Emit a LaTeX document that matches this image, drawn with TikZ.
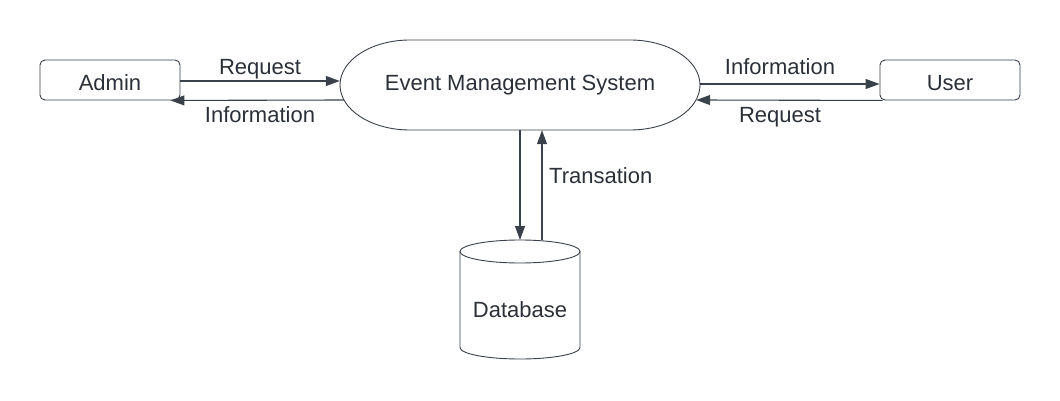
\documentclass[tikz,border=0pt]{standalone}
\usepackage{fontspec}
\setmainfont{Liberation Sans}
\usetikzlibrary{arrows.meta,calc}
\definecolor{linec}{HTML}{3A414A}
\definecolor{textc}{HTML}{2B3038}
\begin{document}
\begin{tikzpicture}[x=1pt,y=1pt,
  every node/.style={font=\fontsize{22pt}{26pt}\selectfont, text=textc},
  boxstyle/.style={draw=linec, line width=0.9pt, rounded corners=5pt, minimum width=140pt, minimum height=40pt, inner sep=0pt, text height=20pt, text depth=0pt},
  flow/.style={draw=linec, line width=1.1pt, -{Triangle[length=14pt,width=10pt]}},
  shapeline/.style={draw=linec, line width=0.9pt},
  lbl/.style={anchor=base, inner sep=0pt}]
\useasboundingbox (0,0) rectangle (1060,400);
% nodes
\node[boxstyle] (admin) at (110,320) {Admin};
\node[boxstyle] (user) at (950,320) {User};
\node[minimum width=360pt, minimum height=90pt, inner sep=0pt, text height=16pt, text depth=4pt] (sys) at (520,315) {Event Management System};
\draw[shapeline] (410,360) -- (630,360) arc[start angle=90, end angle=-90, x radius=70pt, y radius=45pt] -- (410,270) arc[start angle=270, end angle=90, x radius=70pt, y radius=45pt] -- cycle;
% database cylinder
\draw[shapeline] (460,148.5) -- (460,52.5) arc[start angle=180, end angle=360, x radius=60pt, y radius=11.5pt] -- (580,148.5);
\draw[shapeline] (520,148.5) ellipse [x radius=60pt, y radius=11.5pt];
\node[lbl] (db) at (520,83) {Database};
\coordinate (dbtop) at (520,160);
% connectors
\draw[flow] ($(admin.east)+(0,-1)$) -- ($(sys.west)+(0,4)$);
\draw[flow] ($(sys.west)+(4,-15)$) -- ($(admin.south east)+(-10,0)$);
\draw[flow] ($(sys.east)+(0,1)$) -- ($(user.west)+(0,-4)$);
\draw[flow] ($(user.south west)+(3,0)$) -- ($(sys.east)+(-4,-15)$);
\draw[flow] (sys.south) -- (dbtop);
\draw[flow] ($(dbtop)+(22,0)$) -- ($(sys.south)+(22,0)$);
% labels
\node[lbl] (l1) at (260,326) {Request};
\node[lbl] (l2) at (260,278) {Information};
\node[lbl] (l3) at (780,326) {Information};
\node[lbl] (l4) at (780,278) {Request};
\node[lbl, anchor=base west] (l5) at (549,217) {Transation};
\end{tikzpicture}
\end{document}
